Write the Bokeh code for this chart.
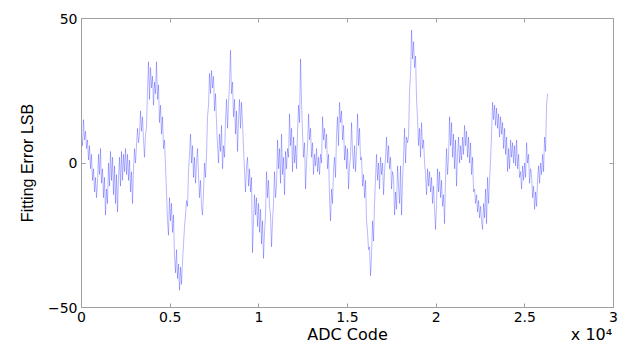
from bokeh.plotting import figure
from bokeh.models import Range1d, FixedTicker, LinearAxis
from bokeh.embed import file_html
from bokeh.resources import INLINE

# Fitting error (LSB), one sample per ~56 ADC codes
err = [
    9, 6, 15, 8, 11, 5, 8, 1, 6, -2, 3, -6, -2, -10, -5, -12, -7, 3, -4, 5,
    -7, -2, -12, -5, -18, -9, -14, 0, -8, 4, -6, 2, -11, -1, -14, -4, -17, -5, 2, -8,
    4, -6, 3, -3, 5, -4, 3, -6, 1, -10, -3, -14, -2, 5, 0, 6, 12, 7, 10, 18,
    11, 16, 8, 2, 10, 12, 25, 35, 22, 33, 26, 30, 20, 28, 24, 35, 22, 27, 14, 20,
    10, 16, 5, 8, -1, -10, -20, -25, -12, -20, -14, -24, -18, -32, -38, -30, -40, -35, -44, -36,
    -42, -34, -28, -22, -18, -13, -15, -3, 3, 10, 0, 6, -5, 2, -7, 0, 5, -4, -12, -6,
    -15, -18, -10, 0, -5, 3, 16, 20, 31, 24, 32, 26, 30, 18, 24, 14, 6, 0, 10, 4,
    13, -2, 6, 2, 15, 22, 12, 20, 28, 39, 24, 28, 16, 22, 10, 18, 4, 15, 22, 12,
    21, 14, 5, -3, -10, -1, 2, -8, -2, -10, -5, -31, -20, -11, -18, -12, -22, -14, -24, -16,
    -28, -20, -33, -24, -18, -3, -12, -6, -15, -18, -29, -20, -14, -3, -12, -8, 8, -2, 5, -7,
    10, -4, 2, -11, 4, -2, 5, 2, 17, 6, 12, -3, 9, 0, 6, -2, 11, 20, 14, 36,
    21, 10, 2, 7, -9, 0, 6, 17, 8, 12, 2, 7, -4, 3, -1, 5, -3, 2, -4, 3,
    0, 16, 8, 12, 5, 10, -2, 3, -12, -20, -9, -14, -2, 2, -5, 10, 16, 6, 21, 14,
    18, 8, 13, 1, 6, -2, 5, -9, -1, 2, 14, 4, -2, 6, -3, 4, 17, 6, 12, 1,
    2, -8, -4, -12, -6, -20, -24, -30, -29, -39, -32, -20, -27, -14, -5, 3, -6, 0, -9, 2,
    -4, 0, -11, -3, 2, 9, 0, 6, -2, 2, -9, -3, -5, -18, -10, -16, -1, -8, -14, -1,
    -18, -6, 2, 12, 0, 9, 7, 9, 25, 31, 46, 36, 42, 33, 37, 22, 15, 6, 12, 2,
    14, 5, 8, 0, -4, -11, -2, -8, -3, -10, -5, -14, -8, -16, -23, -14, -2, -10, -3, -12,
    -6, -15, -11, -21, -5, 5, -4, 2, 16, 6, 14, 2, 10, -2, 8, -8, 3, 9, 0, 6,
    1, 9, 3, 13, 6, 11, 2, 9, 0, 7, -4, 2, -10, -9, -14, -11, -17, -13, -19, -15,
    -20, -23, -14, -19, -9, -21, -5, -14, -6, 1, 10, 21, 15, 20, 13, 19, 12, 17, 9, 16,
    10, 14, 5, 12, 3, 9, -3, 5, -2, 8, 2, 7, 0, 6, -1, 8, -2, 3, -5, -3,
    -9, -1, -6, 0, -5, 7, 0, 3, -7, -2, -4, -12, -8, -16, -10, -15, -6, -1, -7, 0,
    -4, 3, -3, 9, 4, 20, 24,
]
code_step = 56.4
codes = [i * code_step for i in range(len(err))]

x_ticks = [0, 5000, 10000, 15000, 20000, 25000, 30000]
x_tick_labels = ["0", "0.5", "1", "1.5", "2", "2.5", "3"]
y_ticks = [-50, 0, 50]

x_title = "ADC Code"
x_scale_note = "x 10\u2074"
y_title = "Fitting Error LSB"

AX = "#a0a0a0"
TICK_FONT = "DejaVu Sans"

p = figure(width=627, height=347, output_backend="svg", toolbar_location=None,
           x_range=Range1d(0, 30000), y_range=Range1d(-50, 50),
           min_border_left=81, min_border_right=14, min_border_top=18, min_border_bottom=40,
           background_fill_color="white", border_fill_color="white")
p.xgrid.visible = False
p.ygrid.visible = False
p.outline_line_color = AX

p.line(codes, err, line_color="#0000ff", line_alpha=0.28, line_width=1)

def style(ax, ticks, show_labels):
    ax.ticker = FixedTicker(ticks=ticks)
    ax.axis_line_color = AX
    ax.major_tick_line_color = AX
    ax.major_tick_in = 4
    ax.major_tick_out = 0
    ax.minor_tick_line_color = None
    ax.major_label_text_font = TICK_FONT
    ax.major_label_text_font_size = "14px"
    if show_labels:
        ax.major_label_text_color = "black"
    else:
        ax.major_label_overrides = {t: "" for t in ticks}
        ax.major_label_text_color = None
        ax.major_label_standoff = 0

xa = p.xaxis[0]
style(xa, x_ticks, True)
xa.major_label_overrides = {t: l for t, l in zip(x_ticks, x_tick_labels)}
xa.major_label_standoff = 4

ya = p.yaxis[0]
style(ya, y_ticks, True)
ya.major_label_standoff = 4
ya.axis_label = y_title
ya.axis_label_text_font = "Liberation Sans"
ya.axis_label_text_font_size = "16px"
ya.axis_label_text_font_style = "normal"
ya.axis_label_text_color = "black"
ya.axis_label_standoff = 9

top = LinearAxis()
style(top, x_ticks, False)
p.add_layout(top, "above")
right = LinearAxis()
style(right, y_ticks, False)
p.add_layout(right, "right")

# second row under the tick labels: x-axis title (centred) and the x10^4 multiplier (right)
title_pos = 15000
note_pos = 28760
xt = LinearAxis(ticker=FixedTicker(ticks=[title_pos, note_pos]),
                major_label_overrides={title_pos: x_title, note_pos: x_scale_note},
                axis_line_color=None, major_tick_line_color=None, minor_tick_line_color=None,
                major_tick_in=0, major_tick_out=0, major_label_standoff=0,
                major_label_text_font="DejaVu Sans", major_label_text_font_size="16px",
                major_label_text_color="black")
p.add_layout(xt, "below")

open("out.html", "w").write(file_html(p, INLINE))
